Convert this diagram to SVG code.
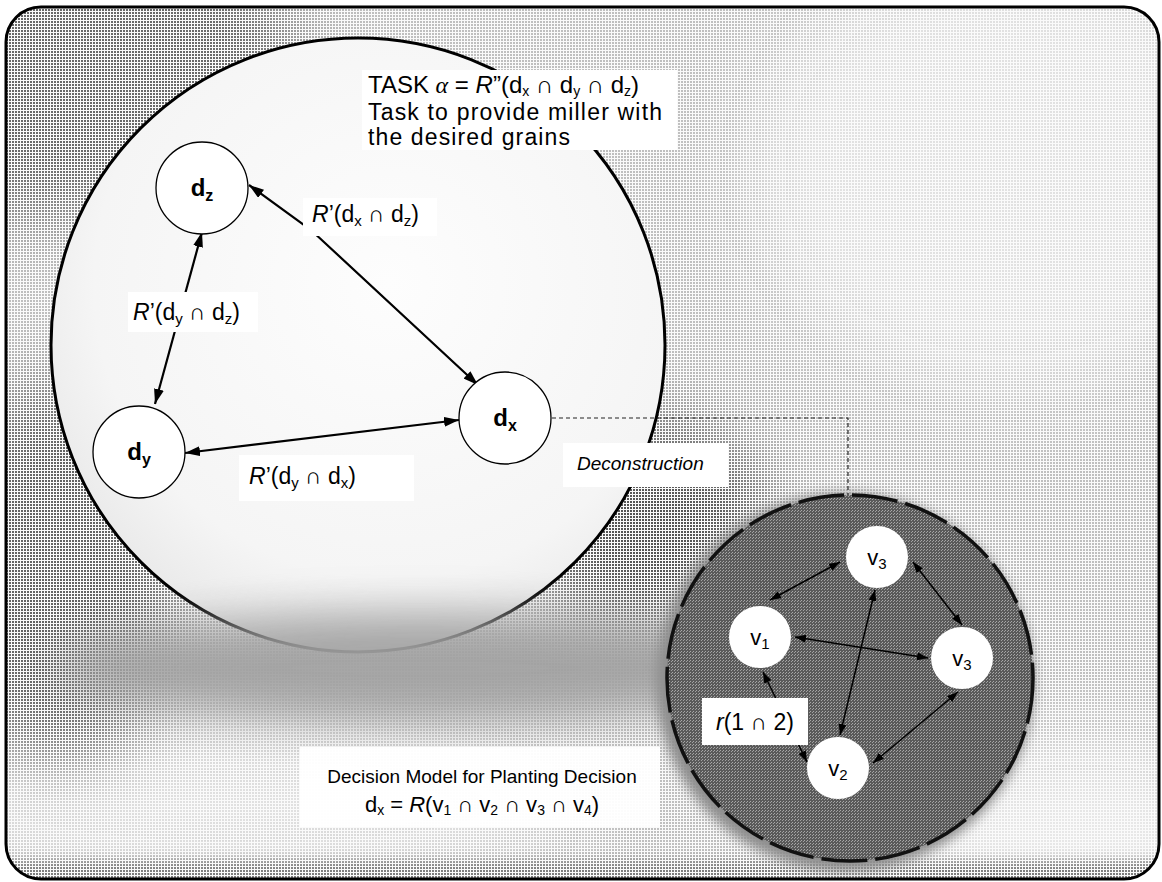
<svg xmlns="http://www.w3.org/2000/svg" width="1162" height="882" viewBox="0 0 1162 882">
<style>
.sans{font-family:"Liberation Sans",Arial,"DejaVu Sans",sans-serif;fill:#000}
.node{fill:#fff;stroke:#000;stroke-width:1.3}
.snode{fill:#fff;stroke:none}
.nl{font-family:"Liberation Sans",Arial,sans-serif;font-weight:bold;font-size:24px;text-anchor:middle}
.sl{font-family:"Liberation Sans",Arial,sans-serif;font-size:22px;text-anchor:middle}
.conn{stroke:#000;stroke-width:2.2;fill:none;marker-start:url(#ah);marker-end:url(#ah)}
.sconn{stroke:#000;stroke-width:1.5;fill:none;marker-start:url(#ahs);marker-end:url(#ahs)}
.box{fill:#fff}
.lab{font-family:"Liberation Sans",Arial,"DejaVu Sans",sans-serif;font-size:23px}
</style>
<defs>
<filter id="b35" filterUnits="userSpaceOnUse" x="-200" y="-200" width="1600" height="1300"><feGaussianBlur stdDeviation="35"/></filter>
<filter id="b22" filterUnits="userSpaceOnUse" x="-200" y="-200" width="1600" height="1300"><feGaussianBlur stdDeviation="22"/></filter>
<filter id="b6" filterUnits="userSpaceOnUse" x="-200" y="-200" width="1600" height="1300"><feGaussianBlur stdDeviation="6"/></filter>
<clipPath id="frame"><rect x="6" y="7" width="1153" height="872" rx="35"/></clipPath>
<pattern id="dots" width="3" height="3" patternUnits="userSpaceOnUse"><rect width="2" height="2" fill="#1e1e1e"/></pattern>
<pattern id="darkdots" width="3" height="3" patternUnits="userSpaceOnUse"><rect width="3" height="3" fill="#5a5a5a"/><rect x="0" y="0" width="1" height="1" fill="#a8a8a8"/><rect x="2" y="1" width="1" height="1" fill="#a0a0a0"/></pattern>
<mask id="shadeMask" maskUnits="userSpaceOnUse" x="0" y="0" width="1162" height="882">
<rect x="0" y="0" width="1162" height="882" fill="#444"/>
<ellipse cx="1010" cy="170" rx="260" ry="220" fill="#1c1c1c" filter="url(#b35)"/>
<ellipse cx="1080" cy="830" rx="180" ry="90" fill="#181818" filter="url(#b35)"/>
<ellipse cx="250" cy="805" rx="330" ry="70" fill="#1a1a1a" filter="url(#b35)"/>
<ellipse cx="70" cy="70" rx="230" ry="150" fill="#a8a8a8" filter="url(#b35)"/>
<ellipse cx="60" cy="570" rx="120" ry="190" fill="#b0b0b0" filter="url(#b35)"/>
<ellipse cx="650" cy="530" rx="120" ry="110" fill="#c0c0c0" filter="url(#b35)"/>
<rect x="0" y="860" width="1162" height="30" fill="#909090" filter="url(#b6)"/>
</mask>
<radialGradient id="bigfill" cx="0.55" cy="0.4" r="0.6">
<stop offset="0" stop-color="#fdfdfd"/><stop offset="0.8" stop-color="#f5f5f5"/><stop offset="1" stop-color="#ebebeb"/>
</radialGradient>
<marker id="ah" viewBox="0 0 15 10" refX="15" refY="5" markerWidth="15" markerHeight="10" markerUnits="userSpaceOnUse" orient="auto-start-reverse"><path d="M0,0 L15,5 L0,10 z" fill="#000"/></marker>
<marker id="ahs" viewBox="0 0 11 8" refX="11" refY="4" markerWidth="11" markerHeight="8" markerUnits="userSpaceOnUse" orient="auto-start-reverse"><path d="M0,0 L11,4 L0,8 z" fill="#000"/></marker>
</defs>

<g id="background" clip-path="url(#frame)">
<rect x="0" y="0" width="1162" height="882" fill="#fafafa"/>
<rect x="0" y="0" width="1162" height="882" fill="url(#dots)" mask="url(#shadeMask)"/>
</g>

<g id="task-circle">
<circle cx="358" cy="345" r="307" fill="url(#bigfill)" stroke="#000" stroke-width="3"/>
</g>
<g id="shade-band" clip-path="url(#frame)">
<ellipse cx="420" cy="668" rx="360" ry="55" fill="#a2a2a2" opacity="0.95" filter="url(#b22)"/>
</g>

<g id="decision-model">
<circle cx="845" cy="682" r="189" fill="#8e8e8e" filter="url(#b6)"/>
<circle cx="850" cy="678" r="183" fill="url(#darkdots)" stroke="#111" stroke-width="3.5" stroke-dasharray="46 8"/>
</g>

<g id="connectors">
<path class="conn" d="M249,185 L311,230 L478,385"/>
<path class="conn" d="M202,232 L155,404"/>
<path class="conn" d="M185,453 L459,420"/>
<path d="M552,418 H848 V495" fill="none" stroke="#222" stroke-width="1.2" stroke-dasharray="4 3"/>
<path class="sconn" d="M770,600 L840,562"/>
<path class="sconn" d="M913,562 L962,625"/>
<path class="sconn" d="M795,637 L928,658"/>
<path class="sconn" d="M875,590 L840,735"/>
<path class="sconn" d="M873,763 L958,692"/>
<path class="sconn" d="M763,672 L807,762"/>
</g>

<g id="task-label">
<rect class="box" x="362" y="70" width="315" height="80"/>
<text class="sans" font-size="24" x="368" y="93">TASK <tspan font-family="Liberation Serif" font-style="italic">α</tspan> = <tspan font-style="italic">R</tspan>”(d<tspan dy="3" font-size="14">x</tspan><tspan dy="-3"> ∩ d</tspan><tspan dy="3" font-size="14">y</tspan><tspan dy="-3"> ∩ d</tspan><tspan dy="3" font-size="14">z</tspan><tspan dy="-3">)</tspan></text>
<text class="sans" font-size="23" x="368" y="120" textLength="294" lengthAdjust="spacing">Task to provide miller with</text>
<text class="sans" font-size="23" x="368" y="145" textLength="202" lengthAdjust="spacing">the desired grains</text>
</g>

<g id="node-dz">
<circle class="node" cx="202" cy="188" r="46"/>
<text class="nl" x="202" y="196">d<tspan dy="5" font-size="16">z</tspan></text>
</g>
<g id="node-dy">
<circle class="node" cx="139" cy="452" r="46"/>
<text class="nl" x="139" y="460">d<tspan dy="5" font-size="16">y</tspan></text>
</g>
<g id="node-dx">
<circle class="node" cx="505" cy="418" r="46"/>
<text class="nl" x="505" y="426">d<tspan dy="5" font-size="16">x</tspan></text>
</g>

<g id="label-dxdz">
<rect class="box" x="303" y="198" width="134" height="38"/>
<text class="lab" x="312" y="222"><tspan font-style="italic">R</tspan>’(d<tspan dy="4" font-size="15">x</tspan><tspan dy="-4"> ∩ d</tspan><tspan dy="4" font-size="15">z</tspan><tspan dy="-4">)</tspan></text>
</g>
<g id="label-dydz">
<rect class="box" x="128" y="292" width="130" height="40"/>
<text class="lab" x="133" y="320"><tspan font-style="italic">R</tspan>’(d<tspan dy="4" font-size="15">y</tspan><tspan dy="-4"> ∩ d</tspan><tspan dy="4" font-size="15">z</tspan><tspan dy="-4">)</tspan></text>
</g>
<g id="label-dydx">
<rect class="box" x="239" y="455" width="175" height="46"/>
<text class="lab" x="249" y="484"><tspan font-style="italic">R</tspan>’(d<tspan dy="4" font-size="15">y</tspan><tspan dy="-4"> ∩ d</tspan><tspan dy="4" font-size="15">x</tspan><tspan dy="-4">)</tspan></text>
</g>

<g id="label-deconstruction">
<rect class="box" x="563" y="443" width="165" height="44"/>
<text class="sans" font-size="19" font-style="italic" x="577" y="470">Deconstruction</text>
</g>

<g id="node-v3-top">
<circle class="snode" cx="877" cy="557" r="31"/>
<text class="sl" x="877" y="565">v<tspan dy="4" font-size="15">3</tspan></text>
</g>
<g id="node-v1">
<circle class="snode" cx="760" cy="637" r="31"/>
<text class="sl" x="760" y="645">v<tspan dy="4" font-size="15">1</tspan></text>
</g>
<g id="node-v3-right">
<circle class="snode" cx="962" cy="658" r="31"/>
<text class="sl" x="962" y="666">v<tspan dy="4" font-size="15">3</tspan></text>
</g>
<g id="node-v2">
<circle class="snode" cx="838" cy="768" r="31"/>
<text class="sl" x="838" y="776">v<tspan dy="4" font-size="15">2</tspan></text>
</g>

<g id="label-r12">
<rect class="box" x="702" y="698" width="106" height="47"/>
<text class="lab" x="716" y="730"><tspan font-style="italic">r</tspan>(1 ∩ 2)</text>
</g>

<g id="label-decision">
<rect class="box" x="300" y="747" width="360" height="80" fill-opacity="0.95"/>
<text class="sans" font-size="19" x="482" y="783" text-anchor="middle">Decision Model for Planting Decision</text>
<text class="sans" font-size="22" x="482" y="812" text-anchor="middle">d<tspan dy="3" font-size="14">x</tspan><tspan dy="-3"> = </tspan><tspan font-style="italic">R</tspan>(v<tspan dy="3" font-size="14">1</tspan><tspan dy="-3"> ∩ v</tspan><tspan dy="3" font-size="14">2</tspan><tspan dy="-3"> ∩ v</tspan><tspan dy="3" font-size="14">3</tspan><tspan dy="-3"> ∩ v</tspan><tspan dy="3" font-size="14">4</tspan><tspan dy="-3">)</tspan></text>
</g>

<rect id="frame-border" x="6" y="7" width="1153" height="872" rx="35" fill="none" stroke="#000" stroke-width="3"/>
</svg>
